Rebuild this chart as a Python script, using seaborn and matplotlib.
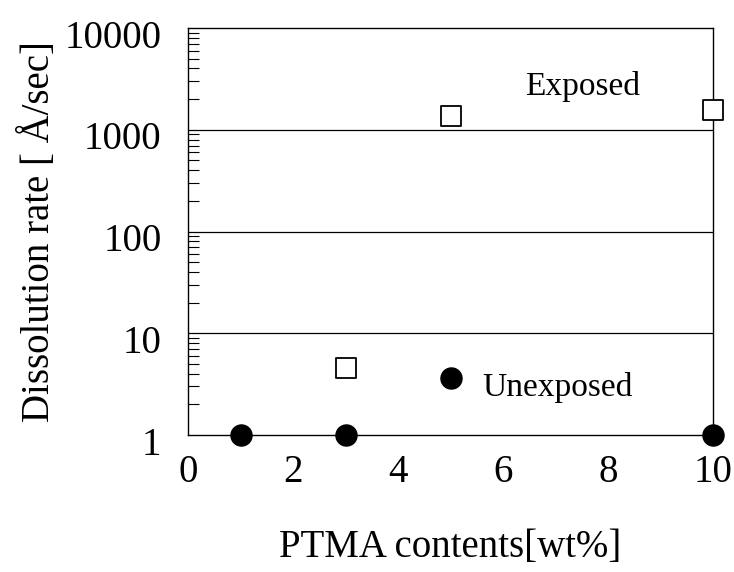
import pandas as pd
import seaborn as sns
import matplotlib.pyplot as plt
import matplotlib.transforms as mtransforms
from matplotlib.ticker import LogLocator, FixedLocator, NullFormatter

# values
exposed_x = [3, 5, 10]
exposed_y = [4.6, 1380, 1580]
unexposed_x = [1, 3, 5, 10]
unexposed_y = [1.0, 1.0, 3.6, 1.0]
y_ticks = [1, 10, 100, 1000, 10000]
y_tick_labels = ["1", "10", "100", "1000", "10000"]
x_ticks = [0, 2, 4, 6, 8, 10]

df = pd.concat([
    pd.DataFrame({"PTMA": exposed_x, "rate": exposed_y, "group": "Exposed"}),
    pd.DataFrame({"PTMA": unexposed_x, "rate": unexposed_y, "group": "Unexposed"}),
], ignore_index=True)

sns.set_style("white")
plt.rcParams["font.family"] = ["Liberation Serif", "DejaVu Serif"]
plt.rcParams["text.color"] = "black"
plt.rcParams["axes.labelcolor"] = "black"
plt.rcParams["xtick.color"] = "black"
plt.rcParams["ytick.color"] = "black"

fig, ax = plt.subplots(figsize=(7.34, 5.72), dpi=100)
fig.subplots_adjust(left=188 / 734, right=713 / 734, top=1 - 28 / 572, bottom=1 - 435 / 572)

ax.set_yscale("log")
for y in [10, 100, 1000]:
    ax.axhline(y, color="black", lw=0.9, zorder=1)

sns.scatterplot(data=df[df.group == "Exposed"], x="PTMA", y="rate", ax=ax,
                marker="s", s=220, facecolor="white", edgecolor="black",
                linewidth=1.3, zorder=3, clip_on=False, legend=False)
sns.scatterplot(data=df[df.group == "Unexposed"], x="PTMA", y="rate", ax=ax,
                marker="o", s=230, color="black", edgecolor="black",
                linewidth=1.0, zorder=3, clip_on=False, legend=False)

ax.set_xlim(0, 10)
ax.set_ylim(1, 10000)
ax.xaxis.set_major_locator(FixedLocator(x_ticks))
ax.yaxis.set_major_locator(FixedLocator(y_ticks))
ax.set_yticklabels(y_tick_labels)
ax.yaxis.set_minor_locator(LogLocator(base=10, subs=range(2, 10)))
ax.yaxis.set_minor_formatter(NullFormatter())

ax.tick_params(axis="x", which="major", direction="in", length=10, width=0.9,
               labelsize=28, pad=14)
ax.tick_params(axis="y", which="major", direction="in", length=0,
               labelsize=28, pad=19)
ax.tick_params(axis="y", which="minor", direction="in", length=8, width=0.8, left=True)

# the y labels sit a little below their gridlines in the original
shift = mtransforms.ScaledTranslation(0, -4 / 72, fig.dpi_scale_trans)
for lab in ax.get_yticklabels():
    lab.set_transform(lab.get_transform() + shift)

for side in ["top", "right", "left", "bottom"]:
    ax.spines[side].set_visible(True)
    ax.spines[side].set_color("black")
    ax.spines[side].set_linewidth(1.0)

ax.set_xlabel("PTMA contents[wt%]", fontsize=28, labelpad=27)
ax.set_ylabel("Dissolution rate [ Å/sec]", fontsize=28, labelpad=5)

ax.text(7.52, 2640, "Exposed", fontsize=24, ha="center", va="center")
ax.text(7.03, 2.95, "Unexposed", fontsize=24, ha="center", va="center")

fig.savefig("out.png", dpi=100)
